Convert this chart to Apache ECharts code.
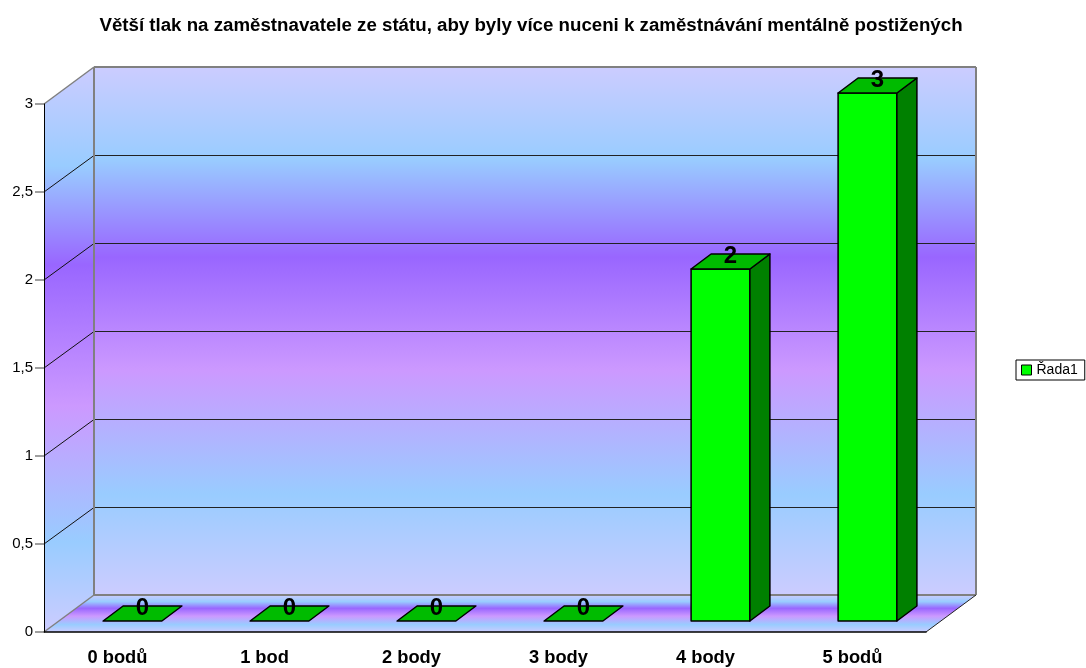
<!DOCTYPE html>
<html>
<head>
<meta charset="utf-8">
<style>
  html, body { margin: 0; padding: 0; background: #fff; }
  #chart { width: 1086px; height: 668px; }
</style>
<script src="https://cdn.jsdelivr.net/npm/echarts@6/dist/echarts.min.js"></script>
</head>
<body>
<div id="chart"></div>
<script>
const titleText = 'Větší tlak na zaměstnavatele ze státu, aby byly více nuceni k zaměstnávání mentálně postižených';
const categories = ['0 bodů', '1 bod', '2 body', '3 body', '4 body', '5 bodů'];
const values = [0, 0, 0, 0, 2, 3];
const seriesName = 'Řada1';
const gridValues = [0.5, 1, 1.5, 2, 2.5];

// the 3d look, all in pixels from the front plane
const WALL_DX = 50, WALL_DY = -37;
const BAR_X = 15, BAR_Y = -11;
const SIDE_DX = 20, SIDE_DY = -15;
const FONT = '"Liberation Sans", Arial, sans-serif';

function wallFill(x0, y0, x1, y1, stops) {
  const colors = ['#ccccff', '#99ccff', '#9966ff', '#cc99ff', '#99ccff', '#ccccff'];
  return new echarts.graphic.LinearGradient(x0, y0, x1, y1,
    colors.map((color, i) => ({ offset: stops[i], color: color })), true);
}

function line(x1, y1, x2, y2, stroke, width) {
  return { type: 'line', shape: { x1, y1, x2, y2 }, style: { stroke: stroke, lineWidth: width, fill: null } };
}

function poly(points, fill) {
  return { type: 'polygon', shape: { points: points }, style: { fill: fill, stroke: null } };
}

function renderWalls(params, api) {
  const band = api.size([1, 0])[0];
  const left = api.coord([0, 0])[0] - band / 2;
  const right = left + band * categories.length;
  const bottom = api.coord([0, 0])[1];
  const top = api.coord([0, 3])[1];
  const bx0 = left + WALL_DX, bx1 = right + WALL_DX;
  const by0 = top + WALL_DY, by1 = bottom + WALL_DY;
  const backStops = [0, 0.175, 0.36, 0.575, 0.81, 1];
  const sideStops = [0, 0.175, 0.35, 0.6, 0.84, 1];
  const floorStops = [0, 0.18, 0.36, 0.57, 0.8, 1];

  const children = [
    poly([[bx0, by0], [bx1, by0], [bx1, by1], [bx0, by1]], wallFill(0, by0, 0, by1, backStops)),
    poly([[left, top], [bx0, by0], [bx0, by1], [left, bottom]], wallFill(0, by0, 0, bottom, sideStops)),
    poly([[left, bottom], [bx0, by1], [bx1, by1], [right, bottom]], wallFill(0, by1, 0, bottom, floorStops))
  ];

  gridValues.forEach(v => {
    const y = api.coord([0, v])[1];
    const back = Math.round(y + WALL_DY) + 0.5;
    children.push(line(left, y, bx0, back, '#111', 1));
    children.push(line(bx0, back, bx1, back, '#222', 1));
  });

  const edge = '#808080';
  children.push(line(left, top, bx0, by0, edge, 1.5));
  children.push(line(bx0, by0, bx1, by0, edge, 2));
  children.push(line(bx1, by0, bx1, by1, edge, 2));
  children.push(line(bx0, by0, bx0, by1, edge, 2));
  children.push(line(bx0, by1, bx1, by1, edge, 2));
  children.push(line(left, bottom, bx0, by1, edge, 1.5));
  children.push(line(right, bottom, bx1, by1, '#222', 1));
  return { type: 'group', children: children };
}

function renderBar(params, api) {
  const base = api.coord([api.value(0), 0]);
  const head = api.coord([api.value(0), api.value(1)]);
  const w = api.size([1, 0])[0] * 0.4;
  const x0 = base[0] - w / 2 + BAR_X, x1 = x0 + w;
  const y0 = base[1] + BAR_Y, yt = head[1] + BAR_Y;
  const stroke = { stroke: '#000', lineWidth: 1.5, lineJoin: 'round' };
  const face = (points, fill) => ({ type: 'polygon', shape: { points: points }, style: Object.assign({ fill: fill }, stroke) });
  const children = [];
  if (api.value(1) > 0) {
    children.push(face([[x0, y0], [x1, y0], [x1, yt], [x0, yt]], '#00ff00'));
    children.push(face([[x1, y0], [x1 + SIDE_DX, y0 + SIDE_DY], [x1 + SIDE_DX, yt + SIDE_DY], [x1, yt]], '#008000'));
  }
  children.push(face([[x0, yt], [x1, yt], [x1 + SIDE_DX, yt + SIDE_DY], [x0 + SIDE_DX, yt + SIDE_DY]], '#00bb00'));
  children.push({
    type: 'text',
    z2: 10,
    style: {
      text: String(api.value(1)),
      x: (x0 + x1) / 2 + SIDE_DX / 2,
      y: yt + SIDE_DY / 2 - 5,
      align: 'center',
      verticalAlign: 'middle',
      fill: '#000',
      font: 'bold 24px ' + FONT
    }
  });
  return { type: 'group', children: children };
}

const chart = echarts.init(document.getElementById('chart'));
chart.setOption({
  animation: false,
  backgroundColor: '#fff',
  title: {
    text: titleText,
    left: 531,
    textAlign: 'center',
    top: 16,
    padding: 0,
    textStyle: { fontFamily: FONT, fontSize: 18.7, fontWeight: 'bold', color: '#000' }
  },
  legend: {
    data: [seriesName],
    left: 1016,
    top: 360,
    orient: 'vertical',
    padding: [3, 7, 3, 5],
    icon: 'rect',
    itemWidth: 10,
    itemHeight: 10,
    itemGap: 0,
    borderColor: '#000',
    borderWidth: 1,
    selectedMode: false,
    textStyle: { fontFamily: FONT, fontSize: 14, color: '#000' },
    itemStyle: { color: '#00ff00', borderColor: '#000', borderWidth: 1 }
  },
  grid: { left: 44, right: 160, top: 104, bottom: 36 },
  xAxis: {
    type: 'category',
    data: categories,
    z: 5,
    axisLine: { lineStyle: { color: '#000', width: 1.5 } },
    axisTick: { length: 10, lineStyle: { color: '#444' } },
    axisLabel: { fontFamily: FONT, fontSize: 18.3, fontWeight: 'bold', color: '#000', margin: 17 }
  },
  yAxis: {
    type: 'value',
    min: 0,
    max: 3,
    interval: 0.5,
    z: 5,
    splitLine: { show: false },
    axisLine: { show: true, lineStyle: { color: '#000', width: 1 } },
    axisTick: { show: true, length: 9, lineStyle: { color: '#808080', width: 1.5 } },
    axisLabel: {
      fontFamily: FONT,
      fontSize: 15,
      color: '#000',
      margin: 11,
      padding: [3, 0, 0, 0],
      formatter: v => String(v).replace('.', ',')
    }
  },
  series: [
    {
      type: 'custom',
      name: 'walls',
      z: 1,
      silent: true,
      renderItem: renderWalls,
      data: [[0, 0]],
      encode: { x: 0, y: 1 }
    },
    {
      type: 'custom',
      name: seriesName,
      z: 6,
      renderItem: renderBar,
      itemStyle: { color: '#00ff00' },
      data: values.map((v, i) => [i, v]),
      encode: { x: 0, y: 1 }
    }
  ]
});
</script>
</body>
</html>
